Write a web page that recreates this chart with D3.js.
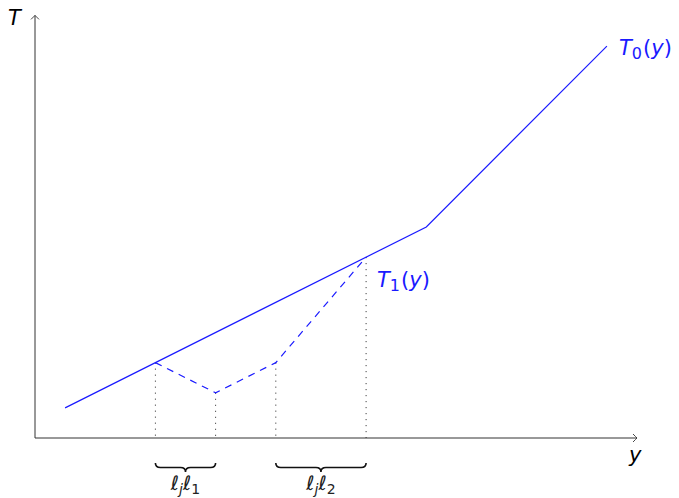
<!DOCTYPE html>
<html>
<head>
<meta charset="utf-8">
<script src="https://cdn.jsdelivr.net/npm/d3@7"></script>
<style>
  body { margin: 0; background: #fff; }
  text { font-family: "DejaVu Sans", sans-serif; }
</style>
</head>
<body>
<svg id="vis" width="679" height="498"></svg>
<script>
// T_0(y): piecewise linear envelope
const t0X = [0.5, 6.5, 9.5];
const t0Y = [1, 7, 13];
// T_1(y): dashed polyline
const t1X = [2, 3, 4, 5.5];
const t1Y = [2.5, 1.5, 2.5, 6];
// dotted guides
const guideX = [2, 3, 4, 5.5];
const guideY = [2.5, 1.5, 2.5, 6];
// braces under the axis
const braceFrom = [2, 4];
const braceTo = [3, 5.5];
const braceSub = ['1', '2'];

const svg = d3.select('#vis');
const blue = '#1a1aff';
const axisCol = '#333';

const x = d3.scaleLinear().domain([0, 10]).range([35, 637]);
const y = d3.scaleLinear().domain([0, 14]).range([438, 16]);

// axes with little arrow tips
const xe = x(10), ye = y(14.02);
svg.append('line').attr('x1', x(0)).attr('y1', y(0)).attr('x2', xe).attr('y2', y(0))
  .attr('stroke', axisCol).attr('stroke-width', 1);
svg.append('line').attr('x1', x(0)).attr('y1', y(0)).attr('x2', x(0)).attr('y2', ye)
  .attr('stroke', axisCol).attr('stroke-width', 1);

svg.append('path')
  .attr('d', `M${xe - 4},${y(0) - 4} Q${xe - 1},${y(0) - 1} ${xe},${y(0)} Q${xe - 1},${y(0) + 1} ${xe - 4},${y(0) + 4}`)
  .attr('fill', 'none').attr('stroke', axisCol).attr('stroke-width', 0.9);
svg.append('path')
  .attr('d', `M${x(0) - 4},${ye + 4} Q${x(0) - 1},${ye + 1} ${x(0)},${ye} Q${x(0) + 1},${ye + 1} ${x(0) + 4},${ye + 4}`)
  .attr('fill', 'none').attr('stroke', axisCol).attr('stroke-width', 0.9);

svg.append('text').attr('x', 8).attr('y', 25).text('T')
  .style('font-style', 'italic').style('font-size', '21px');
svg.append('text').attr('x', 629).attr('y', 462).text('y')
  .style('font-style', 'italic').style('font-size', '21px');

const line = d3.line().x(d => x(d[0])).y(d => y(d[1]));

// dotted guides
svg.selectAll('.guide')
  .data(guideX.map((v, i) => [v, guideY[i]]))
  .enter().append('line')
  .attr('class', 'guide')
  .attr('x1', d => x(d[0])).attr('x2', d => x(d[0]))
  .attr('y1', d => y(d[1])).attr('y2', y(0))
  .attr('stroke', '#222').attr('stroke-width', 1)
  .attr('stroke-dasharray', '1 5');

// T0 solid
svg.append('path')
  .datum(t0X.map((v, i) => [v, t0Y[i]]))
  .attr('d', line)
  .attr('fill', 'none').attr('stroke', blue).attr('stroke-width', 1.2);

// T1 dashed
svg.append('path')
  .datum(t1X.map((v, i) => [v, t1Y[i]]))
  .attr('d', line)
  .attr('fill', 'none').attr('stroke', blue).attr('stroke-width', 1.2)
  .attr('stroke-dasharray', '7 6');

function mathLabel(px, py, main, sub, color, size) {
  const t = svg.append('text').attr('x', px).attr('y', py)
    .style('font-size', size + 'px').attr('fill', color);
  t.append('tspan').text(main).style('font-style', 'italic');
  t.append('tspan').text(sub).attr('dy', size * 0.18).style('font-size', (size * 0.76) + 'px');
  t.append('tspan').text('(').attr('dy', -size * 0.18).attr('dx', 1);
  t.append('tspan').text('y').style('font-style', 'italic');
  t.append('tspan').text(')');
}
mathLabel(619, 55, 'T', '0', blue, 21);
mathLabel(377, 287, 'T', '1', blue, 21);

// braces
const by = 463, bh = 9;
braceFrom.forEach((a, i) => {
  const x0 = x(a), x1 = x(braceTo[i]), xm = (x0 + x1) / 2;
  const m = by + bh / 2;
  const d = `M${x0},${by} Q${x0},${m} ${x0 + 5},${m} L${xm - 5},${m} Q${xm},${m} ${xm},${by + bh} ` +
            `Q${xm},${m} ${xm + 5},${m} L${x1 - 5},${m} Q${x1},${m} ${x1},${by}`;
  svg.append('path').attr('d', d).attr('fill', 'none').attr('stroke', '#111').attr('stroke-width', 1.6);

  const t = svg.append('text').attr('x', xm).attr('y', 490).attr('text-anchor', 'middle')
    .style('font-size', '20px').attr('fill', '#222');
  t.append('tspan').text('ℓ').style('font-style', 'italic');
  t.append('tspan').text('j').style('font-style', 'italic').style('font-size', '14px').attr('dy', 4);
  t.append('tspan').text('ℓ').style('font-style', 'italic').attr('dy', -4);
  t.append('tspan').text(braceSub[i]).style('font-size', '14px').attr('dy', 4);
});
</script>
</body>
</html>
